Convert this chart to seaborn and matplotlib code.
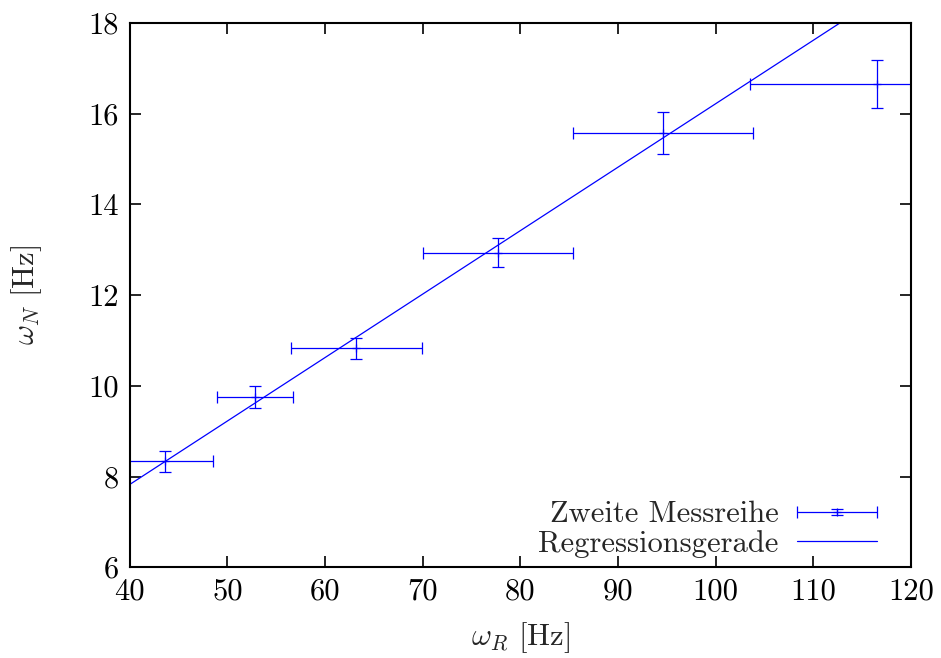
# gnuplot-style plot: second measurement series with regression line
import numpy as np
import matplotlib
matplotlib.use("Agg")
import matplotlib.pyplot as plt
import seaborn as sns
from matplotlib.legend_handler import HandlerErrorbar

# ---- data ----
omega_r = [43.6, 52.8, 63.2, 77.7, 94.6, 116.5]
omega_r_err = [4.9, 3.9, 6.7, 7.7, 9.2, 13.0]
omega_n = [8.34, 9.75, 10.83, 12.93, 15.58, 16.66]
omega_n_err = [0.23, 0.24, 0.23, 0.32, 0.46, 0.53]

# regression line parameters
slope = 0.1399
intercept = 2.23

x_ticks = [40, 50, 60, 70, 80, 90, 100, 110, 120]
y_ticks = [6, 8, 10, 12, 14, 16, 18]

# ---- style ----
sns.set_style("ticks")
plt.rcParams["font.family"] = ["cmr10", "DejaVu Serif"]
plt.rcParams["mathtext.fontset"] = "cm"
plt.rcParams["axes.formatter.use_mathtext"] = True
fs = 22

blue = "#0000ff"

fig = plt.figure(figsize=(9.41, 6.58), dpi=100)
ax = fig.add_axes([0.138, 0.138, 0.830, 0.827])

eb = ax.errorbar(omega_r, omega_n, xerr=omega_r_err, yerr=omega_n_err,
                 fmt="+", color=blue, ms=6, mew=0.9, elinewidth=0.9,
                 capsize=4, capthick=0.9, label="Zweite Messreihe")

x_line = np.array([x_ticks[0], x_ticks[-1]])
sns.lineplot(x=x_line, y=slope * x_line + intercept, ax=ax, color=blue,
             lw=0.9, label="Regressionsgerade")

ax.set_xlim(x_ticks[0], x_ticks[-1])
ax.set_ylim(y_ticks[0], y_ticks[-1])
ax.set_xticks(x_ticks)
ax.set_yticks(y_ticks)
ax.set_xticklabels([str(t) for t in x_ticks])
ax.set_yticklabels([str(t) for t in y_ticks])

ax.tick_params(direction="in", length=8, width=1.2, top=True, right=True,
               labelsize=fs, pad=8, colors="black")
for s in ax.spines.values():
    s.set_visible(True)
    s.set_linewidth(1.5)
    s.set_color("black")

ax.set_xlabel(r"$\omega_R$ [Hz]", fontsize=fs, labelpad=10)
ax.set_ylabel(r"$\omega_N$ [Hz]", fontsize=fs, labelpad=32)

handles, labels = ax.get_legend_handles_labels()
order = [labels.index("Zweite Messreihe"), labels.index("Regressionsgerade")]
ax.legend([handles[i] for i in order], [labels[i] for i in order],
          loc="lower right", bbox_to_anchor=(0.956, 0.017),
          frameon=False, markerfirst=False, fontsize=fs,
          handlelength=2.6, handletextpad=0.6, borderaxespad=0,
          borderpad=0, labelspacing=0.05,
          handler_map={type(eb): HandlerErrorbar(xerr_size=1.3,
                                                   yerr_size=0.1)})

fig.savefig("out.png", dpi=100)
